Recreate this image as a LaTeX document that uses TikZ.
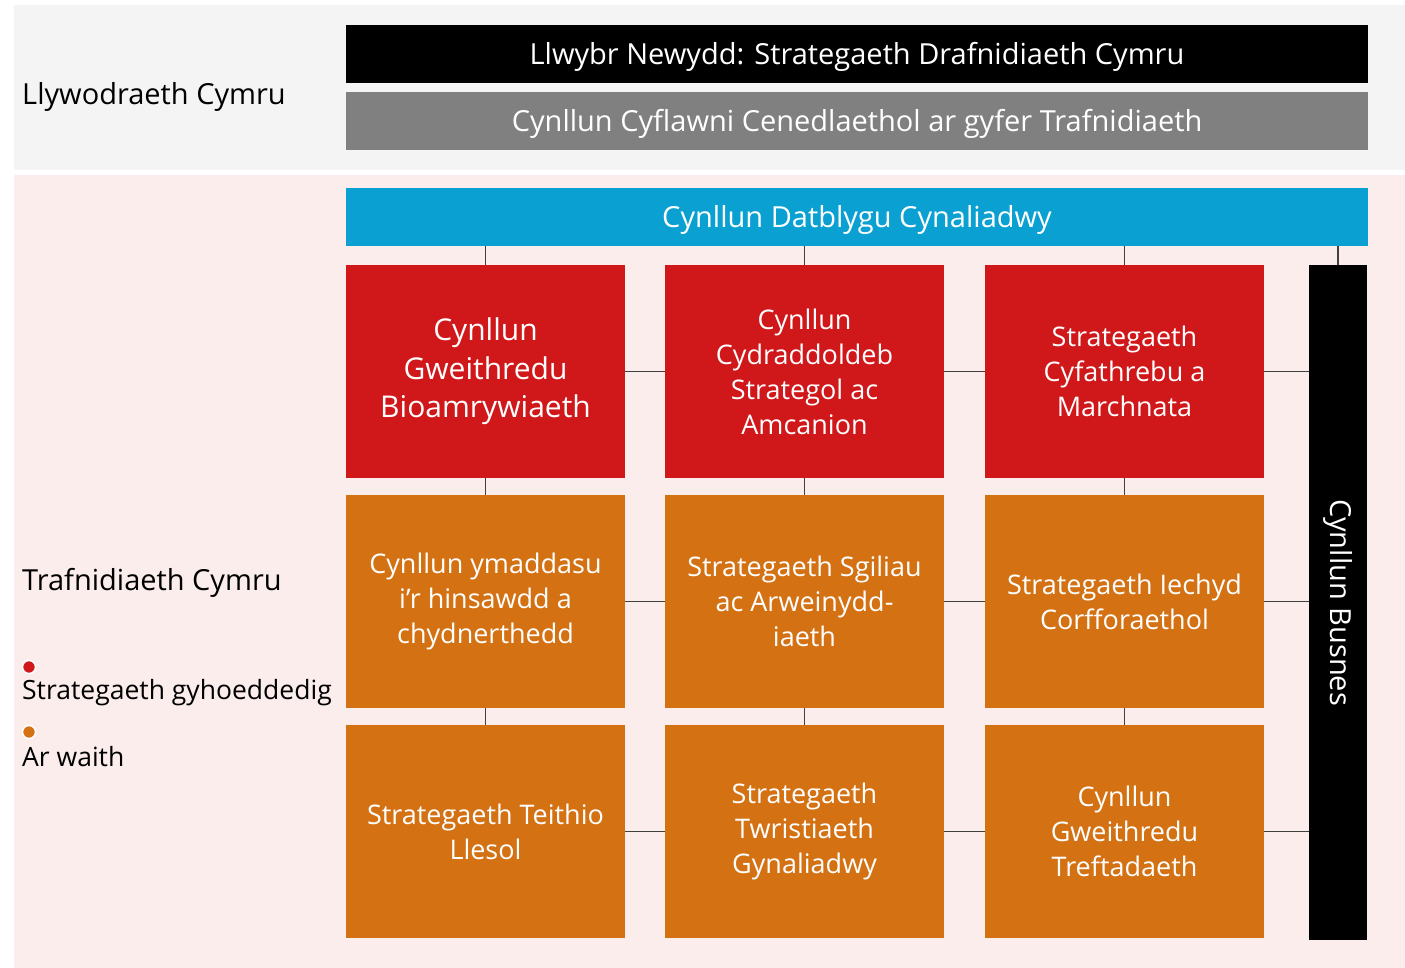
\documentclass[tikz,border=0pt]{standalone}
\usepackage{fontspec}
\setmainfont{Open Sans}
\definecolor{bandgray}{HTML}{F4F4F4}
\definecolor{bandpink}{HTML}{FCEDED}
\definecolor{boxred}{HTML}{D0171A}
\definecolor{boxorange}{HTML}{D37113}
\definecolor{barblue}{HTML}{0AA0D1}
\definecolor{bargray}{HTML}{808080}
\begin{document}
\begin{tikzpicture}[x=1pt, y=-1pt]

\useasboundingbox (0,0) rectangle (1405,968);
\fill[bandgray] (14,5) rectangle (1405,170);
\fill[bandpink] (14,175) rectangle (1405,968);

\tikzset{every node/.style={inner sep=0pt, text=white, align=center}}
\tikzset{bar/.style={minimum width=1022pt, minimum height=58pt, text height=21pt, text depth=0pt, font=\fontsize{29}{35}\selectfont}}
\tikzset{box/.style={minimum width=279pt, minimum height=213pt, font=\fontsize{27}{35}\selectfont}}
\tikzset{bigbox/.style={box, font=\fontsize{30}{38.5}\selectfont}}
\node (llwybr) [bar, fill=black] at (857, 54) {Llwybr Newydd: Strategaeth Drafnidiaeth Cymru};
\node (cyflawni) [bar, fill=bargray] at (857, 121) {Cynllun Cyflawni Cenedlaethol ar gyfer Trafnidiaeth};
\node (datblygu) [bar, fill=barblue] at (857, 217) {Cynllun Datblygu Cynaliadwy};

\node (11) [bigbox, fill=boxred] at (485.5, 371.5) {Cynllun\\Gweithredu\\Bioamrywiaeth};
\node (12) [box, fill=boxred] at (804.5, 371.5) {Cynllun\\Cydraddoldeb\\Strategol ac\\Amcanion};
\node (13) [box, fill=boxred] at (1124.5, 371.5) {Strategaeth\\Cyfathrebu a\\Marchnata};
\node (21) [box, fill=boxorange] at (485.5, 601.5) {Cynllun ymaddasu\\i’r hinsawdd a\\chydnerthedd};
\node (22) [box, fill=boxorange] at (804.5, 601.5) {Strategaeth Sgiliau\\ac Arweinydd-\\iaeth};
\node (23) [box, fill=boxorange] at (1124.5, 601.5) {Strategaeth Iechyd\\Corfforaethol};
\node (31) [box, fill=boxorange] at (485.5, 831.5) {Strategaeth Teithio\\Llesol};
\node (32) [box, fill=boxorange] at (804.5, 831.5) {Strategaeth\\Twristiaeth\\Gynaliadwy};
\node (33) [box, fill=boxorange] at (1124.5, 831.5) {Cynllun\\Gweithredu\\Treftadaeth};
\node (busnes) [fill=black, minimum width=58pt, minimum height=675pt] at (1338, 602.5) {};
\node (busnestext) [rotate=-90, font=\fontsize{29}{35}\selectfont] at (busnes.center) {Cynllun Busnes};

\tikzset{every node/.style={inner sep=0pt, text=black, anchor=base west, font=\fontsize{29}{35}\selectfont}}
\node (llyw) at (22, 105) {Llywodraeth Cymru};
\node (traf) at (22, 590) {Trafnidiaeth Cymru};
\tikzset{every node/.style={inner sep=0pt, text=black, anchor=base west, font=\fontsize{26.5}{32}\selectfont}}
\node (cyhoedd) at (22, 699) {Strategaeth gyhoeddedig};
\node (waith) at (22, 766) {Ar waith};
\tikzset{every node/.style={circle, draw=white, line width=1.5pt, minimum size=13pt, inner sep=0pt}}
\node (dotred) [fill=boxred] at (29, 667) {};
\node (dotorange) [fill=boxorange] at (29, 732) {};

\tikzset{link/.style={draw=black!75, line width=1.5pt}}
\draw[link] (11.north |- datblygu.south) -- (11.north);
\draw[link] (12.north |- datblygu.south) -- (12.north);
\draw[link] (13.north |- datblygu.south) -- (13.north);
\draw[link] (busnes.north |- datblygu.south) -- (busnes.north);
\draw[link] (11) -- (21);
\draw[link] (21) -- (31);
\draw[link] (12) -- (22);
\draw[link] (22) -- (32);
\draw[link] (13) -- (23);
\draw[link] (23) -- (33);
\draw[link] (11) -- (12);
\draw[link] (12) -- (13);
\draw[link] (13.east) -- (13.east -| busnes.west);
\draw[link] (21) -- (22);
\draw[link] (22) -- (23);
\draw[link] (23.east) -- (23.east -| busnes.west);
\draw[link] (31) -- (32);
\draw[link] (32) -- (33);
\draw[link] (33.east) -- (33.east -| busnes.west);
\end{tikzpicture}
\end{document}
